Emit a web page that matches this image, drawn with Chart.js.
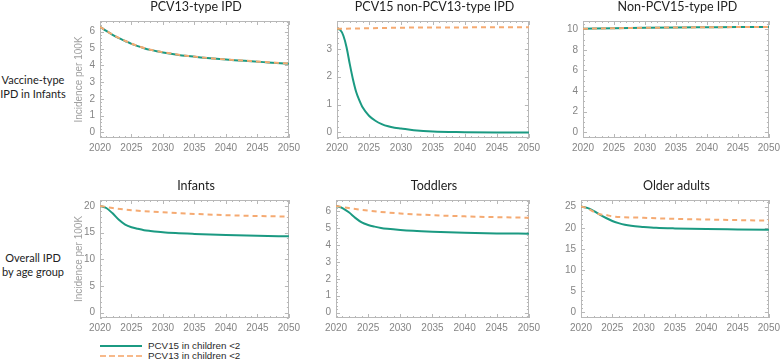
<!DOCTYPE html>
<html lang="en">
<head>
<meta charset="UTF-8" />
<title>IPD incidence projections</title>
<script src="https://cdn.jsdelivr.net/npm/chart.js"></script>
<style>
  body { margin: 0; background: #fff; }
  .tela { position: relative; width: 781px; height: 361px; overflow: hidden; font-family: Lato, "Open Sans", sans-serif; }
  .tela canvas { position: absolute; }
  .titulo { position: absolute; font-size: 12.5px; color: #222; text-align: center; white-space: nowrap; line-height: 13px; }
  .linha { position: absolute; width: 70px; font-size: 11px; color: #222; text-align: center; line-height: 13.5px; }
  .leg { position: absolute; left: 100px; font-family: "Liberation Sans", Arial, sans-serif; font-size: 9.8px; color: #2a2a2a; line-height: 10px; }
  .leg span { display: inline-block; width: 42px; vertical-align: middle; margin-right: 6px; }
</style>
</head>
<body>
<div class="tela" id="tela">
  <div class="linha" style="left:-2px; top:73px;">Vaccine-type<br>IPD in Infants</div>
  <div class="linha" style="left:-2px; top:251px;">Overall IPD<br>by age group</div>

  <div class="leg" style="top:341px;"><span style="border-top:2px solid #1b9a82;"></span>PCV15 in children &lt;2</div>
  <div class="leg" style="top:351px;"><span style="border-top:2px dashed #f7b98a;"></span>PCV13 in children &lt;2</div>
</div>

<script>
  // eixo x e ticks
  const yearTicks = [2020, 2025, 2030, 2035, 2040, 2045, 2050];

  // anos usados em cada serie
  const yrsA = [2020, 2021, 2022, 2023, 2024, 2025, 2026, 2027, 2028, 2029, 2030, 2032, 2034, 2036, 2038, 2040, 2042, 2044, 2046, 2048, 2050];
  const yrsB = [2020, 2020.5, 2021, 2021.5, 2022, 2022.5, 2023, 2023.5, 2024, 2025, 2026, 2027, 2028, 2029, 2030, 2032, 2035, 2040, 2045, 2050];
  const yrsC = [2020, 2025, 2030, 2035, 2040, 2045, 2050];
  const yrsD = [2020, 2021, 2022, 2023, 2024, 2025, 2026, 2027, 2028, 2030, 2032, 2035, 2040, 2045, 2050];
  const yrsE = [2020, 2022, 2025, 2030, 2035, 2040, 2045, 2050];
  const yrsF = [2020, 2021, 2022, 2023, 2024, 2025, 2030, 2035, 2040, 2045, 2050];

  // PCV13-type IPD
  const pcv15_13type = [6.30, 6.05, 5.82, 5.62, 5.45, 5.28, 5.14, 5.02, 4.92, 4.84, 4.77, 4.65, 4.55, 4.47, 4.40, 4.34, 4.29, 4.24, 4.19, 4.14, 4.10];
  const pcv13_13type = [6.30, 6.05, 5.83, 5.63, 5.46, 5.29, 5.15, 5.03, 4.93, 4.85, 4.78, 4.66, 4.56, 4.48, 4.41, 4.35, 4.30, 4.25, 4.20, 4.15, 4.11];
  // PCV15 non-PCV13-type IPD
  const pcv15_15only = [3.72, 3.68, 3.47, 3.05, 2.45, 1.90, 1.45, 1.15, 0.90, 0.60, 0.42, 0.30, 0.22, 0.17, 0.14, 0.08, 0.03, 0.01, 0.0, 0.0];
  const pcv13_15only = [3.72, 3.74, 3.76, 3.77, 3.77, 3.78, 3.78];
  // Non-PCV15-type IPD
  const pcv15_non15 = [10.05, 10.10, 10.14, 10.17, 10.19, 10.21, 10.22];
  const pcv13_non15 = [10.05, 10.10, 10.14, 10.17, 10.19, 10.21, 10.22];
  // Infants
  const pcv15_infants = [20.0, 19.6, 18.6, 17.4, 16.5, 16.0, 15.7, 15.45, 15.3, 15.05, 14.9, 14.75, 14.55, 14.4, 14.3];
  const pcv13_infants = [20.0, 19.6, 19.2, 18.8, 18.5, 18.25, 18.1, 18.0];
  // Toddlers
  const pcv15_toddlers = [6.33, 6.20, 5.95, 5.62, 5.35, 5.20, 5.10, 5.02, 4.97, 4.90, 4.85, 4.80, 4.74, 4.70, 4.68];
  const pcv13_toddlers = [6.33, 6.20, 6.05, 5.88, 5.78, 5.71, 5.66, 5.63];
  // Older adults
  const pcv15_older = [25.0, 24.7, 24.0, 23.1, 22.3, 21.6, 21.1, 20.7, 20.45, 20.2, 20.0, 19.85, 19.7, 19.6, 19.5];
  const pcv13_older = [25.0, 24.6, 23.8, 23.2, 23.0, 22.7, 22.35, 22.1, 21.95, 21.8, 21.7];

  const ticks0to6 = [0, 1, 2, 3, 4, 5, 6];
  const ticks0to3 = [0, 1, 2, 3];
  const ticks0to10 = [0, 2, 4, 6, 8, 10];
  const ticks0to20 = [0, 5, 10, 15, 20];
  const ticks0to25 = [0, 5, 10, 15, 20, 25];

  const VERDE = '#1b9a82';
  const LARANJA = '#f5aa72';

  // moldura com ticks para dentro (estilo Mathematica)
  const frameTicks = {
    id: 'frameTicks',
    beforeDatasetsDraw(chart, args, opts) {
      const { ctx, chartArea: a, scales: { x, y } } = chart;
      ctx.save();
      ctx.strokeStyle = '#b8b8b8';
      ctx.lineWidth = 1;
      ctx.strokeRect(Math.round(a.left) + 0.5, Math.round(a.top) + 0.5, Math.round(a.width) - 1, Math.round(a.height) - 1);
      ctx.beginPath();
      for (let yr = x.min; yr <= x.max; yr++) {
        const px = Math.round(x.getPixelForValue(yr)) + 0.5;
        const len = yr % 5 === 0 ? 4 : 2;
        ctx.moveTo(px, a.bottom); ctx.lineTo(px, a.bottom - len);
        ctx.moveTo(px, a.top); ctx.lineTo(px, a.top + len);
      }
      const step = opts.yMinor;
      const k0 = Math.ceil(y.min / step), k1 = Math.floor(y.max / step);
      for (let k = k0; k <= k1; k++) {
        const v = k * step;
        const major = opts.yMajor.some(t => Math.abs(t - v) < 1e-6);
        const py = Math.round(y.getPixelForValue(v)) + 0.5;
        const len = major ? 4 : 2;
        ctx.moveTo(a.left, py); ctx.lineTo(a.left + len, py);
        ctx.moveTo(a.right, py); ctx.lineTo(a.right - len, py);
      }
      ctx.stroke();
      ctx.restore();
    }
  };

  const pts = (xs, ys) => xs.map((v, i) => ({ x: v, y: ys[i] }));
  const tela = document.getElementById('tela');

  function painel(box, titulo, serie15, serie13, yMin, yMax, yTicks, yMinor, yTitle) {
    const [L, T, R, B] = box;
    const yW = 30, padTop = 8, padRight = 12, xH = 20;
    const cv = document.createElement('canvas');
    cv.width = R - L + yW + padRight;
    cv.height = B - T + padTop + xH;
    cv.style.left = (L - yW) + 'px';
    cv.style.top = (T - padTop) + 'px';
    tela.appendChild(cv);

    const t = document.createElement('div');
    t.className = 'titulo';
    t.textContent = titulo;
    t.style.left = ((L + R) / 2 - 100) + 'px';
    t.style.width = '200px';
    t.style.top = (T - 18) + 'px';
    tela.appendChild(t);

    const tickFont = { family: '"Liberation Sans", Arial, sans-serif', size: 10 };
    return new Chart(cv.getContext('2d'), {
      type: 'line',
      data: {
        datasets: [
          {
            label: 'PCV13 in children <2',
            data: serie13,
            borderColor: LARANJA,
            borderWidth: 2,
            borderDash: [5, 4],
            pointRadius: 0,
            cubicInterpolationMode: 'monotone'
          },
          {
            label: 'PCV15 in children <2',
            data: serie15,
            borderColor: VERDE,
            borderWidth: 2,
            pointRadius: 0,
            cubicInterpolationMode: 'monotone'
          }
        ]
      },
      options: {
        responsive: false,
        animation: false,
        devicePixelRatio: 1,
        layout: { padding: { top: padTop, right: padRight, left: 0, bottom: 0 } },
        plugins: {
          legend: { display: false },
          tooltip: { enabled: false },
          frameTicks: { yMinor: yMinor, yMajor: yTicks }
        },
        scales: {
          x: {
            type: 'linear',
            min: 2020,
            max: 2050,
            grid: { display: false, drawTicks: false },
            border: { display: false },
            afterBuildTicks: s => { s.ticks = yearTicks.map(v => ({ value: v })); },
            afterFit: s => { s.height = xH; },
            ticks: { color: '#858585', font: tickFont, padding: 4, maxRotation: 0, callback: v => String(v) }
          },
          y: {
            min: yMin,
            max: yMax,
            grid: { display: false, drawTicks: false },
            border: { display: false },
            afterBuildTicks: s => { s.ticks = yTicks.map(v => ({ value: v })); },
            afterFit: s => { s.width = yW; },
            ticks: { color: '#858585', font: tickFont, padding: 5, callback: v => String(v) },
            title: {
              display: !!yTitle,
              text: yTitle || '',
              color: '#a0a0a0',
              font: { family: '"Liberation Sans", Arial, sans-serif', size: 10 },
              padding: { top: 3, bottom: 0 }
            }
          }
        }
      },
      plugins: [frameTicks]
    });
  }

  const yLabel = 'Incidence per 100K';
  painel([100, 18, 292, 138], 'PCV13-type IPD', pts(yrsA, pcv15_13type), pts(yrsA, pcv13_13type), -0.33, 6.64, ticks0to6, 0.2, yLabel);
  painel([337, 18, 532, 138], 'PCV15 non-PCV13-type IPD', pts(yrsB, pcv15_15only), pts(yrsC, pcv13_15only), -0.2, 4.0, ticks0to3, 0.2, null);
  painel([583, 18, 772, 138], 'Non-PCV15-type IPD', pts(yrsC, pcv15_non15), pts(yrsC, pcv13_non15), -0.55, 10.8, ticks0to10, 0.5, null);
  painel([100, 197, 292, 318], 'Infants', pts(yrsD, pcv15_infants), pts(yrsE, pcv13_infants), -1.0, 21.1, ticks0to20, 1, yLabel);
  painel([336, 197, 532, 318], 'Toddlers', pts(yrsD, pcv15_toddlers), pts(yrsE, pcv13_toddlers), -0.32, 6.68, ticks0to6, 0.2, null);
  painel([581, 197, 772, 318], 'Older adults', pts(yrsD, pcv15_older), pts(yrsF, pcv13_older), -1.3, 26.55, ticks0to25, 1, null);
</script>
</body>
</html>
